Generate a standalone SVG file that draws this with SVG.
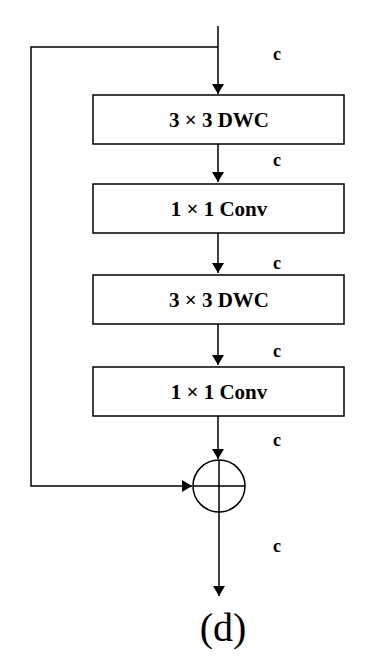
<svg xmlns="http://www.w3.org/2000/svg" width="366" height="664" viewBox="0 0 366 664">
<style>
.box{fill:#fff;stroke:#000;stroke-width:1.5}
.ln{fill:none;stroke:#000;stroke-width:1.5}
.t{font-family:"Liberation Serif",serif;font-weight:bold;font-size:21px;text-anchor:middle}
.c{font-family:"Liberation Serif",serif;font-weight:bold;font-size:18px;text-anchor:middle}
</style>
<defs>
<marker id="ah" markerWidth="10" markerHeight="12" refX="10" refY="6" orient="auto" markerUnits="userSpaceOnUse">
<path d="M0,0 L10,6 L0,12 Z" fill="#000"/>
</marker>
</defs>
<g id="connectors">
<path class="ln" d="M218,26 V94" marker-end="url(#ah)"/>
<path class="ln" d="M218,47 H31 V486 H192" marker-end="url(#ah)"/>
<path class="ln" d="M218,144 V182" marker-end="url(#ah)"/>
<path class="ln" d="M218,233 V273" marker-end="url(#ah)"/>
<path class="ln" d="M218,324 V365" marker-end="url(#ah)"/>
<path class="ln" d="M218,416 V459" marker-end="url(#ah)"/>
<path class="ln" d="M219,512 V596" marker-end="url(#ah)"/>
</g>
<g id="n1"><rect class="box" x="93" y="95" width="251" height="49"/><text class="t" x="219" y="127">3 × 3 DWC</text></g>
<g id="n2"><rect class="box" x="93" y="184" width="251" height="49"/><text class="t" x="219" y="216">1 × 1 Conv</text></g>
<g id="n3"><rect class="box" x="93" y="275" width="251" height="49"/><text class="t" x="219" y="307">3 × 3 DWC</text></g>
<g id="n4"><rect class="box" x="93" y="367" width="251" height="49"/><text class="t" x="219" y="399">1 × 1 Conv</text></g>
<g id="add"><circle class="ln" cx="219" cy="486" r="26"/><path class="ln" d="M193,486 H245 M219,460 V512"/></g>
<g id="labels">
<text class="c" x="277" y="60">c</text>
<text class="c" x="277" y="166">c</text>
<text class="c" x="277" y="269">c</text>
<text class="c" x="277" y="357">c</text>
<text class="c" x="277" y="446">c</text>
<text class="c" x="277" y="552">c</text>
<text x="223" y="641" font-family="Liberation Serif,serif" font-size="40" text-anchor="middle">(d)</text>
</g>
</svg>
